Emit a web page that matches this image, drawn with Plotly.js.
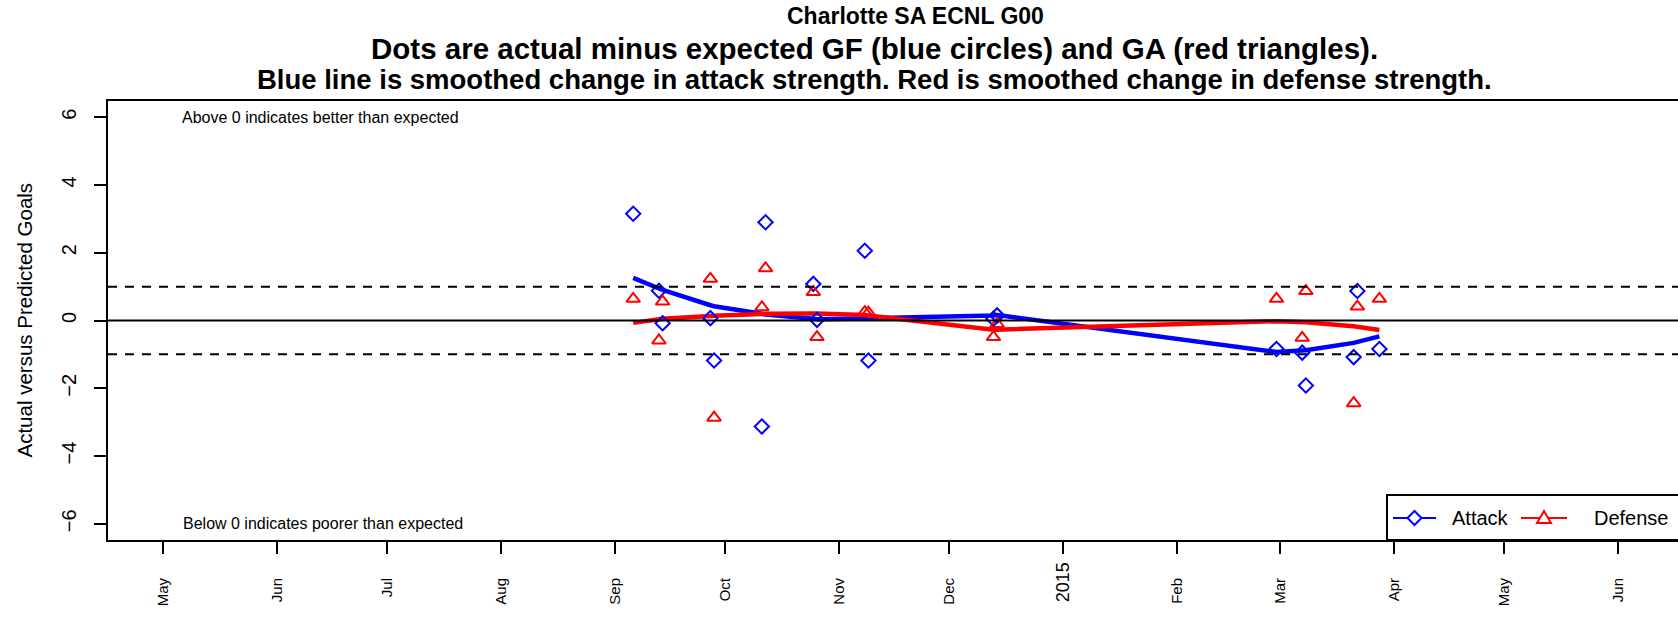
<!DOCTYPE html>
<html>
<head>
<meta charset="utf-8">
<script src="https://cdn.plot.ly/plotly-3.0.1.min.js"></script>
<style>
html,body{margin:0;padding:0;overflow:hidden;background:#fff;width:1678px;height:618px;}
#chart{width:1760px;height:618px;}
</style>
</head>
<body>
<div id="chart"></div>
<script>
// ---- data ----
const gameDates = ['2014-09-06','2014-09-13','2014-09-14','2014-09-27','2014-09-28','2014-10-11','2014-10-12','2014-10-25','2014-10-26','2014-11-08','2014-11-09','2014-12-13','2014-12-14','2015-02-28','2015-03-07','2015-03-08','2015-03-21','2015-03-22','2015-03-28'];
const attackDiff = [3.15, 0.88, -0.08, 0.07, -1.18, -3.13, 2.90, 1.08, 0.02, 2.06, -1.18, 0.05, 0.15, -0.84, -0.95, -1.92, -1.08, 0.87, -0.84];
const defenseDiff = [0.64, -0.59, 0.56, 1.23, -2.87, 0.39, 1.54, 0.84, -0.49, 0.25, 0.23, -0.49, -0.10, 0.64, -0.51, 0.87, -2.44, 0.41, 0.64];
const attackSmooth = [1.26, 0.97, 0.90, 0.45, 0.42, 0.20, 0.18, 0.05, 0.04, 0.06, 0.07, 0.15, 0.16, -0.93, -0.90, -0.88, -0.66, -0.63, -0.47];
const defenseSmooth = [-0.07, 0.03, 0.05, 0.13, 0.14, 0.19, 0.20, 0.21, 0.21, 0.16, 0.15, -0.27, -0.27, -0.02, -0.04, -0.05, -0.17, -0.19, -0.28];
const monthTicks = ['2014-05-01','2014-06-01','2014-07-01','2014-08-01','2014-09-01','2014-10-01','2014-11-01','2014-12-01','2015-01-01','2015-02-01','2015-03-01','2015-04-01','2015-05-01','2015-06-01'];
const monthLabels = ['May','Jun','Jul','Aug','Sep','Oct','Nov','Dec','','Feb','Mar','Apr','May','Jun'];
const yearTick = '2015-01-01';
const yearLabel = '2015';
const yTicks = [-6,-4,-2,0,2,4,6];
const titleLines = ['Charlotte SA ECNL G00','Dots are actual minus expected GF (blue circles) and GA (red triangles).','Blue line is smoothed change in attack strength. Red is smoothed change in defense strength.'];
const seriesNames = ['Attack', 'Defense'];
const seriesColors = ['#0000ff', '#ff0000'];

// ---- layout geometry (pixels) ----
const W = 1760, H = 618;
const L = 108, T = 101, B = 540, R = 1728;
const fx = px => (px - L) / (R - L);
const fy = py => (B - py) / (B - T);
const FONT = '"Liberation Sans", Arial, Helvetica, sans-serif';

const traces = [
  {x: gameDates, y: attackSmooth, type: 'scatter', mode: 'lines', showlegend: false,
   line: {color: seriesColors[0], width: 4.5}},
  {x: gameDates, y: defenseSmooth, type: 'scatter', mode: 'lines', showlegend: false,
   line: {color: seriesColors[1], width: 4.5}},
  {x: gameDates, y: attackDiff, type: 'scatter', mode: 'markers', showlegend: false,
   marker: {symbol: 'diamond-open', size: 11, color: seriesColors[0], line: {width: 2, color: seriesColors[0]}}},
  {x: gameDates, y: defenseDiff, type: 'scatter', mode: 'markers', showlegend: false,
   marker: {symbol: 'triangle-up-open', size: 12, color: seriesColors[1], line: {width: 2, color: seriesColors[1]}}}
];

const titleSpec = [[titleLines[0], 915, 16, 23], [titleLines[1], 874, 49, 29.5], [titleLines[2], 874, 80, 27.5]];
const annotations = titleSpec.map(s => ({text: '<b>' + s[0] + '</b>', xref: 'paper', yref: 'paper',
  x: fx(s[1]), y: fy(s[2]), xanchor: 'center', yanchor: 'middle', showarrow: false,
  font: {family: FONT, size: s[3], color: '#000'}}));

annotations.push(
  {text: 'Above 0 indicates better than expected', xref: 'paper', yref: 'y', x: fx(180), y: 6,
   xanchor: 'left', yanchor: 'middle', showarrow: false, font: {family: FONT, size: 16, color: '#000'}},
  {text: 'Below 0 indicates poorer than expected', xref: 'paper', yref: 'y', x: fx(181), y: -6,
   xanchor: 'left', yanchor: 'middle', showarrow: false, font: {family: FONT, size: 16, color: '#000'}},
  {text: 'Actual versus Predicted Goals', xref: 'paper', yref: 'paper', x: fx(24), y: 0.5,
   xanchor: 'center', yanchor: 'middle', textangle: -90, showarrow: false, font: {family: FONT, size: 20.5, color: '#000'}},
  {text: yearLabel, xref: 'x', yref: 'paper', x: yearTick, y: fy(561), xanchor: 'center', yanchor: 'top',
   textangle: -90, showarrow: false, borderpad: 0, font: {family: FONT, size: 18, color: '#000'}}
);

// ---- custom legend (bottom right, like R's legend box) ----
const legTop = 495, legMid = 518;
const legItems = [{x0: 1393, x1: 1436, text: 1450}, {x0: 1521, x1: 1567, text: 1592}];
const shapes = [
  {type: 'line', xref: 'paper', yref: 'y', x0: 0, x1: 1, y0: 0, y1: 0, line: {color: '#000', width: 2}},
  {type: 'line', xref: 'paper', yref: 'y', x0: 0, x1: 1, y0: 1, y1: 1, line: {color: '#000', width: 2, dash: '9px,8px'}},
  {type: 'line', xref: 'paper', yref: 'y', x0: 0, x1: 1, y0: -1, y1: -1, line: {color: '#000', width: 2, dash: '9px,8px'}},
  {type: 'rect', xref: 'paper', yref: 'paper', x0: fx(1387), x1: fx(1760), y0: fy(B), y1: fy(legTop),
   fillcolor: '#fff', line: {color: '#000', width: 2}}
];
legItems.forEach((it, i) => {
  const c = seriesColors[i];
  shapes.push({type: 'line', xref: 'paper', yref: 'paper', x0: fx(it.x0), x1: fx(it.x1), y0: fy(legMid), y1: fy(legMid), line: {color: c, width: 2}});
  const cx = (it.x0 + it.x1) / 2;
  let p;
  if (i === 0) {
    const r = 7;
    p = `M${fx(cx - r)},${fy(legMid)} L${fx(cx)},${fy(legMid - r)} L${fx(cx + r)},${fy(legMid)} L${fx(cx)},${fy(legMid + r)} Z`;
  } else {
    const hw = 7, top = legMid - 7, bot = legMid + 5;
    p = `M${fx(cx - hw)},${fy(bot)} L${fx(cx + hw)},${fy(bot)} L${fx(cx)},${fy(top)} Z`;
  }
  shapes.push({type: 'path', xref: 'paper', yref: 'paper', path: p, fillcolor: '#fff', line: {color: c, width: 2}});
  annotations.push({text: seriesNames[i], xref: 'paper', yref: 'paper', x: fx(it.text), y: fy(legMid),
    xanchor: 'left', yanchor: 'middle', showarrow: false, font: {family: FONT, size: 20, color: '#000'}});
});

const layout = {
  width: W, height: H,
  margin: {l: L, r: W - R, t: T, b: H - B, pad: 0},
  paper_bgcolor: '#fff', plot_bgcolor: '#fff',
  font: {family: FONT, color: '#000'},
  showlegend: false,
  xaxis: {type: 'date', range: ['2014-04-16 03:00', '2015-06-30 20:00'], tickmode: 'array',
    tickvals: monthTicks, ticktext: monthLabels, tickangle: -90, ticks: 'outside', ticklen: 12, tickwidth: 2,
    tickcolor: '#000', tickfont: {family: FONT, size: 15, color: '#000'}, showgrid: false, zeroline: false,
    showline: true, mirror: true, linecolor: '#000', linewidth: 2, ticklabelstandoff: 18, fixedrange: true},
  yaxis: {range: [-6.48, 6.48], tickmode: 'array', tickvals: yTicks, tickangle: -90, ticks: 'outside',
    ticklen: 12, tickwidth: 2, tickcolor: '#000', tickfont: {family: FONT, size: 20, color: '#000'},
    showgrid: false, zeroline: false, showline: true, mirror: true, linecolor: '#000', linewidth: 2,
    ticklabelstandoff: 10, fixedrange: true},
  shapes: shapes,
  annotations: annotations
};

Plotly.newPlot('chart', traces, layout, {staticPlot: true, displayModeBar: false});
</script>
</body>
</html>
